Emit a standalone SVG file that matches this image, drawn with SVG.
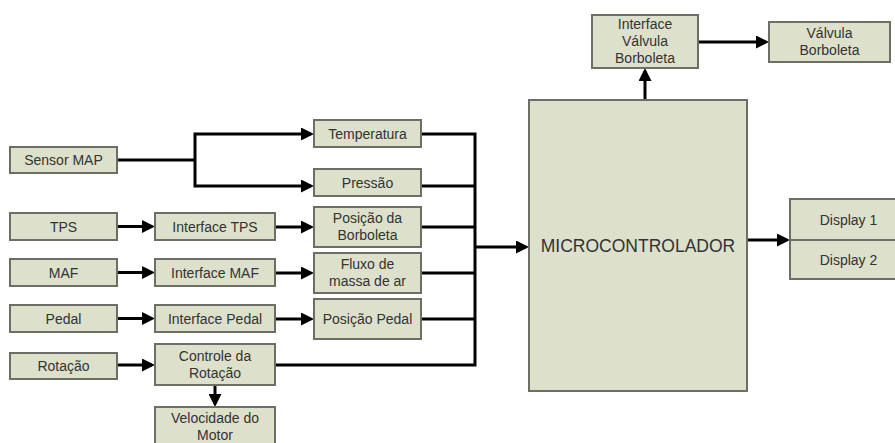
<svg xmlns="http://www.w3.org/2000/svg" width="895" height="443" viewBox="0 0 895 443">
<style>
.box{fill:#dde0cb;stroke:#6e6e66;stroke-width:2}
.t{font-family:"Liberation Sans",Arial,sans-serif;font-size:14px;fill:#333;text-anchor:middle}
.big{font-size:17.5px}
.c{fill:none;stroke:#000;stroke-width:3;stroke-linejoin:miter}
.a{marker-end:url(#ah)}
</style>
<defs>
<marker id="ah" markerUnits="userSpaceOnUse" markerWidth="13" markerHeight="13" viewBox="0 0 13 13" refX="10" refY="6.5" orient="auto-start-reverse">
<path d="M0,0 L13,6.5 L0,13 z" fill="#000"/>
</marker>
</defs>
<rect width="895" height="443" fill="#fff"/>
<g id="connectors">
<path class="c" d="M117,160 H195"/>
<path class="c" d="M311,134 H195 V186 H311" marker-start="url(#ah)" marker-end="url(#ah)"/>
<path class="c a" d="M117,226.5 H152"/>
<path class="c a" d="M117,272.5 H152"/>
<path class="c a" d="M117,318.5 H152"/>
<path class="c a" d="M117,365 H152"/>
<path class="c a" d="M275,227 H311"/>
<path class="c a" d="M275,273 H311"/>
<path class="c a" d="M275,319 H311"/>
<path class="c a" d="M215,385 V404"/>
<path class="c" d="M421,134 H475 V365 H275"/>
<path class="c" d="M421,186 H475"/>
<path class="c" d="M421,227 H475"/>
<path class="c" d="M421,273 H475"/>
<path class="c" d="M421,319 H475"/>
<path class="c a" d="M475,247 H526"/>
<path class="c a" d="M645,100 V71"/>
<path class="c a" d="M698,42 H766"/>
<path class="c a" d="M747,240 H787"/>
</g>
<g id="sensor_map"><rect class="box" x="10" y="147" width="107" height="26"/><text class="t" x="63.5" y="165">Sensor MAP</text></g>
<g id="tps"><rect class="box" x="10" y="213" width="107" height="27"/><text class="t" x="63.5" y="231.5">TPS</text></g>
<g id="maf"><rect class="box" x="10" y="259" width="107" height="27"/><text class="t" x="63.5" y="277.5">MAF</text></g>
<g id="pedal"><rect class="box" x="10" y="305" width="107" height="27"/><text class="t" x="63.5" y="323.5">Pedal</text></g>
<g id="rotacao"><rect class="box" x="10" y="353" width="107" height="26"/><text class="t" x="63.5" y="371">Rotação</text></g>
<g id="interface_tps"><rect class="box" x="155" y="213" width="120" height="27"/><text class="t" x="215" y="231.5">Interface TPS</text></g>
<g id="interface_maf"><rect class="box" x="155" y="259" width="120" height="27"/><text class="t" x="215" y="277.5">Interface MAF</text></g>
<g id="interface_pedal"><rect class="box" x="155" y="305" width="120" height="27"/><text class="t" x="215" y="323.5">Interface Pedal</text></g>
<g id="controle_rotacao"><rect class="box" x="155" y="344" width="120" height="41"/><text class="t" x="215" y="361">Controle da</text><text class="t" x="215" y="378">Rotação</text></g>
<g id="velocidade_motor"><rect class="box" x="155" y="407" width="120" height="42"/><text class="t" x="215" y="423">Velocidade do</text><text class="t" x="215" y="440">Motor</text></g>
<g id="temperatura"><rect class="box" x="314" y="120" width="107" height="27"/><text class="t" x="367.5" y="138.5">Temperatura</text></g>
<g id="pressao"><rect class="box" x="314" y="169" width="107" height="27"/><text class="t" x="367.5" y="187.5">Pressão</text></g>
<g id="posicao_borboleta"><rect class="box" x="314" y="207" width="107" height="40"/><text class="t" x="367.5" y="223">Posição da</text><text class="t" x="367.5" y="240">Borboleta</text></g>
<g id="fluxo_massa_ar"><rect class="box" x="314" y="253" width="107" height="40"/><text class="t" x="367.5" y="269">Fluxo de</text><text class="t" x="367.5" y="286">massa de ar</text></g>
<g id="posicao_pedal"><rect class="box" x="314" y="299" width="107" height="40"/><text class="t" x="367.5" y="324">Posição Pedal</text></g>
<g id="microcontrolador"><rect class="box" x="529" y="100" width="218" height="291"/><text class="t big" x="638" y="251.5">MICROCONTROLADOR</text></g>
<g id="interface_valvula"><rect class="box" x="592" y="15" width="106" height="53"/><text class="t" x="645" y="29">Interface</text><text class="t" x="645" y="46">Válvula</text><text class="t" x="645" y="63">Borboleta</text></g>
<g id="valvula_borboleta"><rect class="box" x="769" y="22" width="121" height="40"/><text class="t" x="829.5" y="38">Válvula</text><text class="t" x="829.5" y="55">Borboleta</text></g>
<g id="display_1"><rect class="box" x="790" y="199" width="120" height="41"/><text class="t" x="848.5" y="224.5">Display 1</text></g>
<g id="display_2"><rect class="box" x="790" y="240" width="120" height="39"/><text class="t" x="848.5" y="264.5">Display 2</text></g>
</svg>
